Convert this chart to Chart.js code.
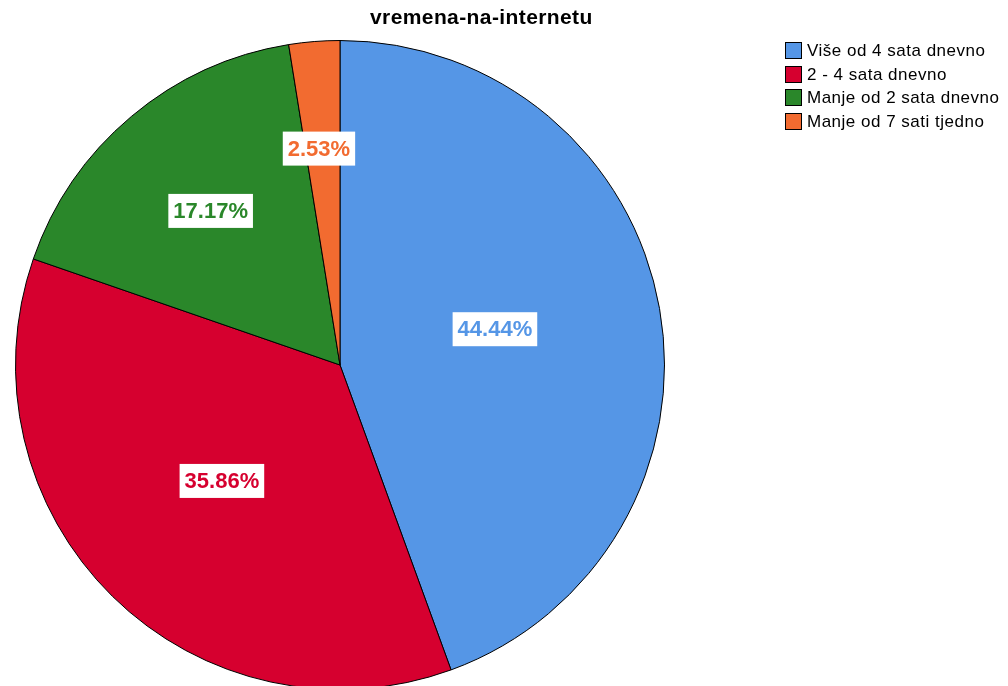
<!DOCTYPE html>
<html lang="en">
<head>
<meta charset="UTF-8">
<title>vremena-na-internetu</title>
<script src="https://cdn.jsdelivr.net/npm/chart.js@4.4.1/dist/chart.umd.min.js"></script>
<style>
  html, body { margin: 0; padding: 0; background: #fff; overflow: hidden; }
  #wrap { position: relative; width: 1008px; height: 686px; overflow: hidden; }
  #box { position: absolute; left: 0; top: 0; width: 1008px; height: 700px; }
  #title { position: absolute; left: 370px; top: 5px; font: bold 21px "Liberation Sans", Arial, sans-serif; letter-spacing: 0.4px; color: #000; }
  #legend { position: absolute; left: 785px; top: 39px; font: 17px "Liberation Sans", Arial, sans-serif; letter-spacing: 0.5px; color: #000; }
  #legend div { height: 23.5px; line-height: 23.5px; white-space: nowrap; }
  #legend span.sw { display: inline-block; width: 17px; height: 17px; border: 1px solid #000; box-sizing: border-box; vertical-align: -3px; margin-right: 5px; }
</style>
<script>
// data (percent of respondents)
var labels = ['Više od 4 sata dnevno', '2 - 4 sata dnevno', 'Manje od 2 sata dnevno', 'Manje od 7 sati tjedno'];
var values = [44.44, 35.86, 17.17, 2.53];
var colors = ['#5596e6', '#d6002f', '#2a872a', '#f26b30'];
// where each value label sits: fraction of radius, and a small angle shift (deg)
var labelPos = [0.49, 0.51, 0.62, 0.67];
var labelTurn = [-3, 1, 0, -1];
</script>
</head>
<body>
<div id="wrap">
  <div id="box"><canvas id="pie"></canvas></div>
  <div id="title">vremena-na-internetu</div>
  <div id="legend"></div>
</div>
<script>
var legendEl = document.getElementById('legend');
labels.forEach(function(l, i) {
  var row = document.createElement('div');
  var sw = document.createElement('span');
  sw.className = 'sw';
  sw.style.background = colors[i];
  row.appendChild(sw);
  row.appendChild(document.createTextNode(l));
  legendEl.appendChild(row);
});

// white boxes with percentages, coloured like their slice
var valueLabels = {
  id: 'valueLabels',
  afterDatasetsDraw: function(chart) {
    var ctx = chart.ctx;
    var meta = chart.getDatasetMeta(0);
    ctx.save();
    ctx.font = 'bold 22px "Liberation Sans", Arial, sans-serif';
    ctx.textAlign = 'center';
    ctx.textBaseline = 'middle';
    meta.data.forEach(function(arc, i) {
      var p = arc.getProps(['x', 'y', 'startAngle', 'endAngle', 'outerRadius']);
      var a = (p.startAngle + p.endAngle) / 2 + labelTurn[i] * Math.PI / 180;
      var r = p.outerRadius * labelPos[i];
      var x = p.x + Math.cos(a) * r;
      var y = p.y + Math.sin(a) * r;
      var txt = values[i].toFixed(2) + '%';
      var w = ctx.measureText(txt).width + 10;
      var h = 34;
      ctx.fillStyle = '#fff';
      ctx.fillRect(x - w / 2, y - h / 2, w, h);
      ctx.fillStyle = colors[i];
      ctx.fillText(txt, x, y + 1);
    });
    ctx.restore();
  }
};

window.onload = function() {
  var ctx = document.getElementById('pie').getContext('2d');
  window.myChart = new Chart(ctx, {
    type: 'pie',
    data: {
      labels: labels,
      datasets: [{
        data: values,
        backgroundColor: colors,
        borderColor: '#000',
        borderWidth: 1
      }]
    },
    options: {
      responsive: true,
      maintainAspectRatio: false,
      animation: false,
      layout: { padding: { left: 15, right: 343, top: 40, bottom: 10 } },
      plugins: {
        legend: { display: false },
        title: { display: false },
        tooltip: { enabled: false }
      }
    },
    plugins: [valueLabels]
  });
};
</script>
</body>
</html>
